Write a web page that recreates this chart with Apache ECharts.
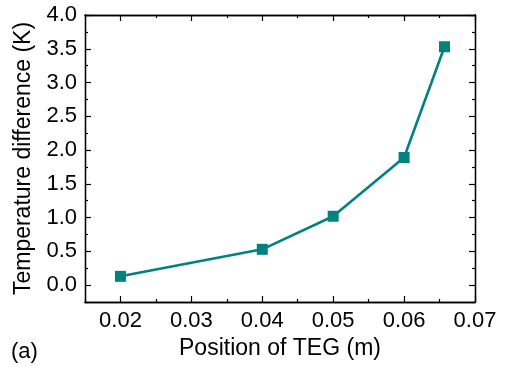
<!DOCTYPE html>
<html><head><meta charset="utf-8">
<script src="https://cdn.jsdelivr.net/npm/echarts@6/dist/echarts.min.js"></script>
<style>html,body{margin:0;padding:0;background:#fff}#c{width:506px;height:367px}</style>
</head><body><div id="c"></div>
<script>
const xValues = [0.02, 0.04, 0.05, 0.06, 0.0657];
const yValues = [0.13, 0.53, 1.02, 1.89, 3.53];
const xTickLabels = [0.02, 0.03, 0.04, 0.05, 0.06, 0.07];
const xMinorTicks = [0.015, 0.025, 0.035, 0.045, 0.055, 0.065];
const yTickLabels = [0, 0.5, 1, 1.5, 2, 2.5, 3, 3.5, 4];
const yMinorTicks = [-0.25, 0.25, 0.75, 1.25, 1.75, 2.25, 2.75, 3.25, 3.75];

const font = 'Liberation Sans, Arial, Helvetica, sans-serif';
const color = '#00827f';
const grid = {left: 85, right: 31, top: 15, bottom: 65};
function xAx(pos, ticks, len, labels) {
  return {type: 'value', position: pos, min: 0.015, max: 0.07,
    axisLine: {show: true, onZero: false, lineStyle: {color: '#000', width: 1.3}},
    axisTick: {show: true, inside: true, length: len, customValues: ticks, lineStyle: {color: '#000', width: 1.2}},
    axisLabel: labels ? {show: true, customValues: xTickLabels, formatter: v => v.toFixed(2), fontFamily: font, fontSize: 22, color: '#000', margin: 8} : {show: false},
    splitLine: {show: false}};
}
function yAx(pos, ticks, len, labels) {
  return {type: 'value', position: pos, min: -0.25, max: 4.0,
    axisLine: {show: true, onZero: false, lineStyle: {color: '#000', width: 1.3}},
    axisTick: {show: true, inside: true, length: len, customValues: ticks, lineStyle: {color: '#000', width: 1.2}},
    axisLabel: labels ? {show: true, customValues: yTickLabels, formatter: v => v.toFixed(1), fontFamily: font, fontSize: 22, color: '#000', margin: 8} : {show: false},
    splitLine: {show: false}};
}
const xAxes = [
  Object.assign(xAx('bottom', xTickLabels, 6, true), {name: 'Position of TEG (m)', nameLocation: 'middle', nameGap: 33, nameTextStyle: {fontFamily: font, fontSize: 23, color: '#000'}}),
  xAx('bottom', xMinorTicks, 3, false),
  xAx('top', xTickLabels, 6, false),
  xAx('top', xMinorTicks, 3, false)
];
const yAxes = [
  Object.assign(yAx('left', yTickLabels, 6, true), {name: 'Temperature difference (K)', nameLocation: 'middle', nameGap: 50, nameTextStyle: {fontFamily: font, fontSize: 23, color: '#000'}}),
  yAx('left', yMinorTicks, 3, false),
  yAx('right', yTickLabels, 6, false),
  yAx('right', yMinorTicks, 3, false)
];
const chart = echarts.init(document.getElementById('c'), null, {renderer: 'canvas'});
chart.setOption({
  animation: false,
  grid: grid,
  xAxis: xAxes,
  yAxis: yAxes,
  graphic: [{type: 'text', left: 11, top: 341, style: {text: '(a)', font: '22px ' + font, fill: '#000'}}],
  series: [{type: 'line', xAxisIndex: 0, yAxisIndex: 0,
    data: xValues.map((x, i) => [x, yValues[i]]),
    symbol: 'rect', symbolSize: 11, showAllSymbol: true,
    lineStyle: {color: color, width: 2.6}, itemStyle: {color: color}}]
});
</script></body></html>
